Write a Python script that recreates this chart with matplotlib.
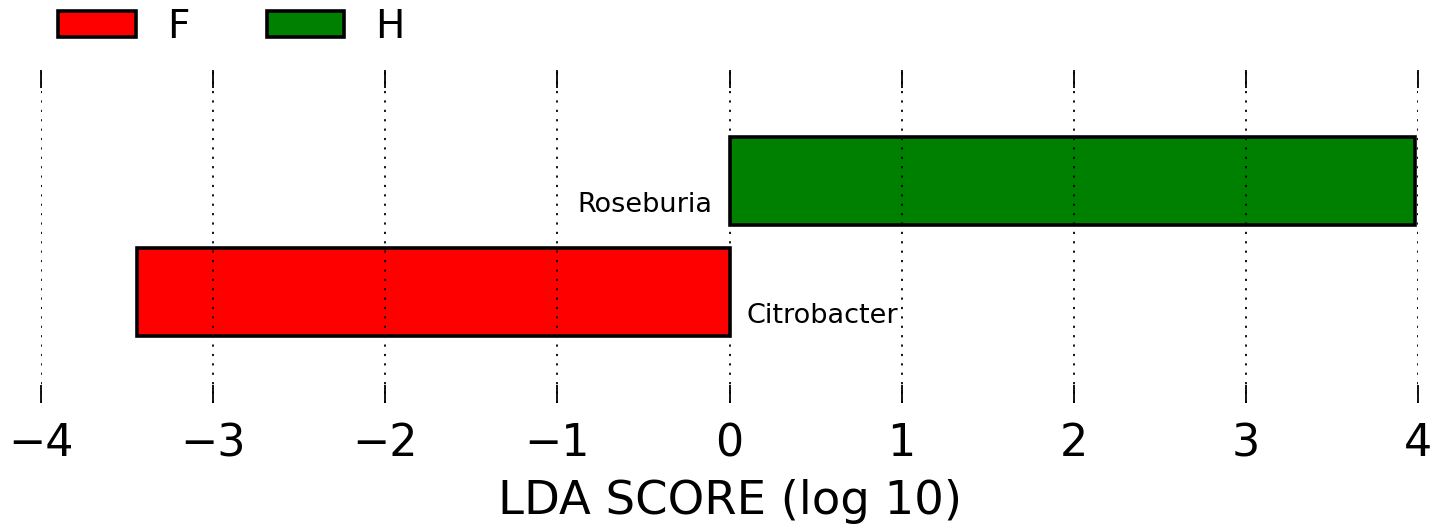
import matplotlib
matplotlib.use("Agg")
import matplotlib.pyplot as plt
from matplotlib.patches import Patch

features = ["Citrobacter", "Roseburia"]
lda_scores = [-3.44, 3.98]
bar_colors = ["#ff0000", "#008000"]
classes = ["F", "H"]
class_colors = ["#ff0000", "#008000"]
xticks = [-4, -3, -2, -1, 0, 1, 2, 3, 4]

fig = plt.figure(figsize=(14.46, 5.29), dpi=100)
ax = fig.add_axes([0.0284, 0.2382, 0.9522, 0.6295])

ypos = list(range(len(features)))
ax.barh(ypos, lda_scores, height=0.8, color=bar_colors, edgecolor="black", linewidth=2.6, zorder=1)

for y, name, v in zip(ypos, features, lda_scores):
    if v > 0:
        ax.text(-0.1, y - 0.22, name, ha="right", va="center", fontsize=19.5)
    else:
        ax.text(0.1, y - 0.22, name, ha="left", va="center", fontsize=19.5)

ax.set_xlim(-4, 4)
ax.set_ylim(-1, 2)
ax.set_yticks([])
ax.set_xticks(xticks)
ax.set_xticklabels([f"\u2212{abs(t)}" if t < 0 else str(t) for t in xticks])
ax.tick_params(axis="x", direction="in", length=13, width=1.3, labelsize=32, pad=14, top=True)
ax.tick_params(axis="y", left=False, right=False)
for s in ax.spines.values():
    s.set_visible(False)
ax.grid(axis="x", linestyle=(0, (1.2, 4)), color="black", linewidth=1.3, zorder=1.5)
ax.set_axisbelow(False)
ax.set_xlabel("LDA SCORE (log 10)", fontsize=33.5, labelpad=10)

handles = [Patch(facecolor=c, edgecolor="black", linewidth=2.6, label=l) for c, l in zip(class_colors, classes)]
fig.legend(handles=handles, loc="upper left", bbox_to_anchor=(0.016, 1.051), ncol=2, frameon=False,
           fontsize=28, handlelength=2.0, handleheight=0.65, handletextpad=0.8, columnspacing=1.98)

fig.savefig("out.png", dpi=100)
